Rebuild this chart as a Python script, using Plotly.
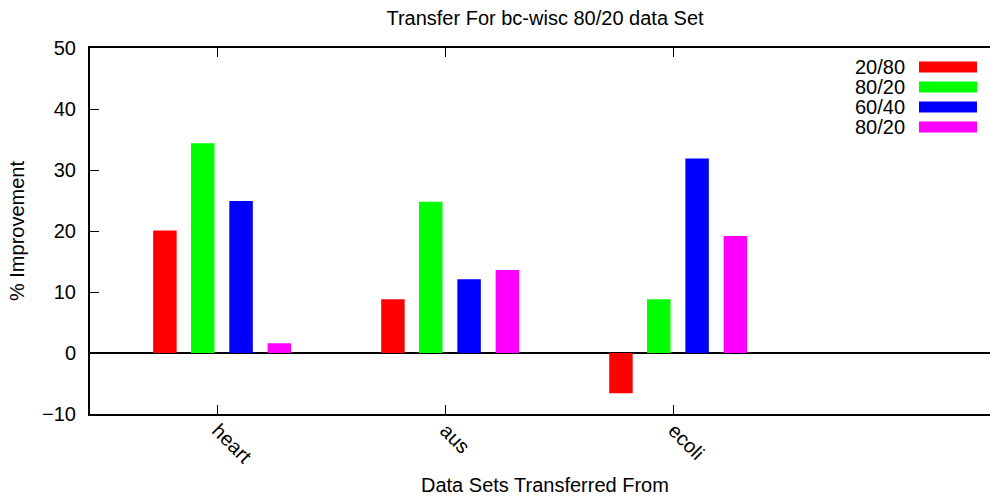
import plotly.graph_objects as go

categories = ["heart", "aus", "ecoli"]
series_names = ["20/80", "80/20", "60/40", "80/20"]
vals_2080 = [20.1, 8.8, -6.6]
vals_8020a = [34.4, 24.8, 8.8]
vals_6040 = [24.9, 12.1, 31.9]
vals_8020b = [1.6, 13.6, 19.2]
series_values = [vals_2080, vals_8020a, vals_6040, vals_8020b]
colors = ["#ff0000", "#00ff00", "#0000ff", "#ff00ff"]
offsets = [-0.284, -0.118, 0.050, 0.218]
bar_w = 0.103

W, H = 990, 496
L, R, T, B = 90, 0, 48, 82
FONT = "Liberation Sans, Arial, sans-serif"
FS = 20

fig = go.Figure()
xs = list(range(len(categories)))
for name, vals, col, off in zip(series_names, series_values, colors, offsets):
    fig.add_trace(go.Bar(x=xs, y=vals, name=name, marker=dict(color=col, line=dict(width=0)),
                         offset=off, width=bar_w, showlegend=False))

# custom legend (text left of swatch, gnuplot style)
pw = W - L - R
ph = H - T - B
ann = []
shapes = []
for i, (name, col) in enumerate(zip(series_names, colors)):
    yc = 67 + 20 * i
    yp = 1 - (yc - T) / ph
    ann.append(dict(x=(907 - L) / pw, y=yp, xref="paper", yref="paper", text=name,
                    showarrow=False, xanchor="right", yanchor="middle",
                    font=dict(family=FONT, size=FS, color="black")))
    shapes.append(dict(type="rect", xref="paper", yref="paper",
                       x0=(919 - L) / pw, x1=(977 - L) / pw,
                       y0=1 - (yc + 5.5 - T) / ph, y1=1 - (yc - 5.5 - T) / ph,
                       fillcolor=col, line=dict(width=0)))

# x axis title (centred on the full gnuplot canvas)
ann.append(dict(x=(545 - L) / pw, y=1 - (485 - T) / ph, xref="paper", yref="paper",
                text="Data Sets Transferred From",
                showarrow=False, xanchor="center", yanchor="middle",
                font=dict(family=FONT, size=FS, color="black")))

fig.update_layout(
    width=W, height=H,
    margin=dict(l=L, r=R, t=T, b=B),
    plot_bgcolor="white", paper_bgcolor="white",
    barmode="overlay",
    font=dict(family=FONT, size=FS, color="black"),
    title=dict(text="Transfer For bc-wisc 80/20 data Set", x=545 / W, xanchor="center",
               y=1 - 18 / H, yanchor="middle", xref="container", yref="container",
               font=dict(family=FONT, size=FS, color="black")),
    annotations=ann,
    shapes=shapes,
    xaxis=dict(range=[-0.561, 3.386], tickvals=xs, ticktext=categories, tickangle=45,
               showline=True, linecolor="black", linewidth=2, mirror="ticks",
               ticks="inside", ticklen=9, tickwidth=1.3, tickcolor="black",
               showgrid=False, zeroline=False, ticklabelstandoff=-5),
    yaxis=dict(range=[-10, 50], tickvals=[-10, 0, 10, 20, 30, 40, 50],
               showline=True, linecolor="black", linewidth=2, mirror=False,
               ticks="inside", ticklen=9, tickwidth=1.3, tickcolor="black",
               showgrid=False, zeroline=True, zerolinecolor="black", zerolinewidth=1.5,
               title=dict(text="% Improvement", standoff=12,
                          font=dict(family=FONT, size=FS, color="black")),
               ticklabelstandoff=8),
)

fig.write_html("out.html")
